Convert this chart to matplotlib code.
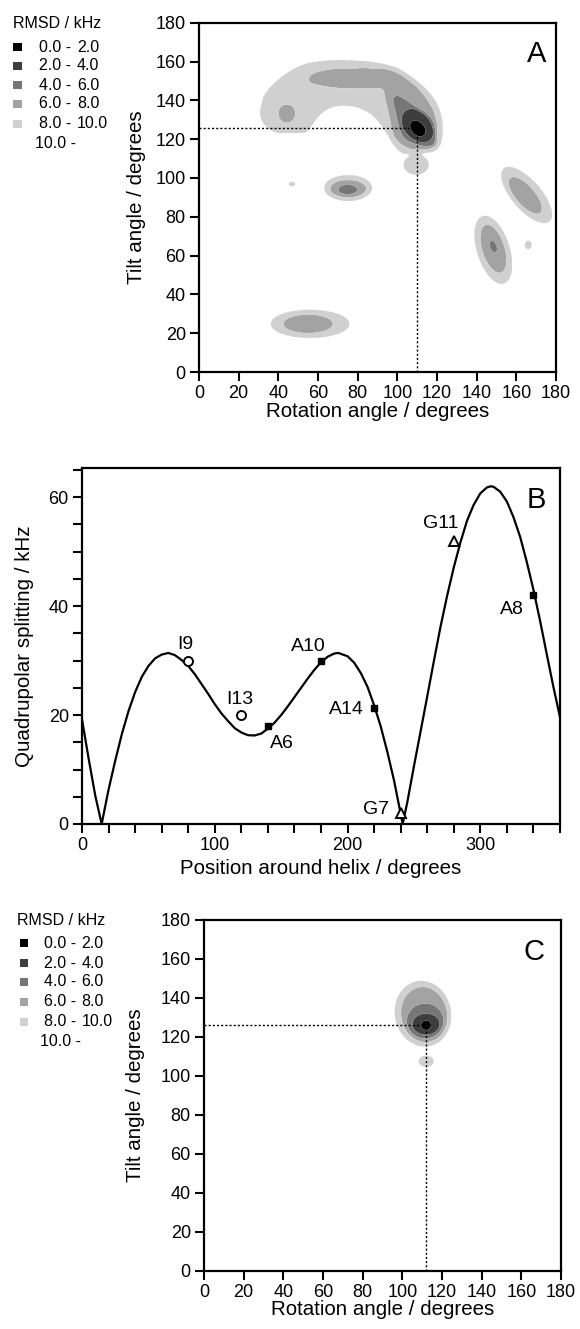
import numpy as np
import matplotlib
matplotlib.use("Agg")
import matplotlib.pyplot as plt
from matplotlib.patches import Rectangle
from matplotlib.path import Path

plt.rcParams['font.family'] = ['Liberation Sans', 'DejaVu Sans']

# ---------------- data ----------------
rmsd_levels = [0, 2, 4, 6, 8, 10]
rmsd_colors = ['#000000', '#3e3e3e', '#767676', '#a3a3a3', '#d0d0d0']
legend_lo = ['0.0 -', '2.0 -', '4.0 -', '6.0 -', '8.0 -']
legend_hi = ['2.0', '4.0', '6.0', '8.0', '10.0']

# Panel A: upper bound (kHz) of each RMSD region; outlines
A_arc_light_x = [30.8, 32.4, 35.5, 39, 44, 49, 54, 59, 66, 72.8, 80, 86, 93, 99.7, 105, 110, 113.5,
                 116.5, 119.5, 121.5, 122.8, 123, 122, 120, 117.5, 115, 110, 103, 100.5, 98.8,
                 96.5, 94.6, 92, 89.6, 86.5, 83, 79.5, 76, 72.5, 69.4, 66, 62.7, 60, 57.6, 55.5,
                 54, 50, 45, 40, 36, 32.4, 31]
A_arc_light_y = [135, 142, 146.5, 150, 154, 157, 159, 160, 160.7, 160.8, 160.5, 160, 158.8, 157,
                 153.8, 150, 147, 143.6, 139.5, 135, 129, 123, 117.5, 114.4, 113.2, 113, 112.3,
                 112.3, 114, 116, 119.5, 123, 127, 130, 133, 135, 136.5, 137, 137.3, 137, 136,
                 134, 131.5, 128, 125, 123.3, 123, 123, 123, 124.5, 128, 131]
A_arc_mid_x = [55, 56, 60, 65, 70, 75, 80, 86, 92.9, 98, 103, 109.7, 114, 118.2, 119.8, 119.8,
               118.5, 116.5, 112, 106, 101.5, 98.5, 97.2, 96.5, 95.5, 94.3, 92.9, 88, 80, 72, 65,
               60, 56.5]
A_arc_mid_y = [150.5, 153, 154.7, 155.8, 156.3, 156.4, 156.5, 156.5, 156.4, 155, 152.5, 147, 142,
               135, 129, 123, 118.5, 115.3, 114.5, 115, 117.5, 121, 125.3, 129, 134, 139, 146.1,
               146, 146, 146.2, 147, 147.9, 148.8]
A_arc_dark_x = [98, 100.5, 104, 108, 112, 116, 118.7, 119.7, 119, 116.5, 113, 109, 105, 102.5,
                101.2, 100, 98.8, 97.8]
A_arc_dark_y = [142, 142.5, 140.5, 137.5, 134.5, 130, 125, 120, 116.8, 115.8, 116.5, 117.5, 119,
                121.5, 125, 130, 135.5, 139.5]

# simple blobs: level, centre x, centre y, semi-axis a, semi-axis b, angle
A_ell_lev = [8, 4, 2, 10, 8, 6, 10, 10, 10, 8, 10, 8, 6, 10, 10, 8]
A_ell_x   = [44.3, 110.3, 110.3, 75.2, 75.2, 75, 109.5, 47, 165.2, 164.5, 148.4, 148.4, 148.4, 166, 56, 55]
A_ell_y   = [133.2, 127.0, 125.5, 94.8, 94.5, 94, 106.8, 96.8, 91.2, 91, 63, 63.5, 64.6, 65.5, 24.8, 24.8]
A_ell_a   = [4.3, 9.8, 4.8, 12.2, 9.2, 5, 6.5, 2.1, 18, 11.8, 18.3, 13, 3.5, 1.9, 20, 12.6]
A_ell_b   = [4.8, 7.0, 3.3, 6.7, 4.5, 2.5, 5.2, 1.3, 7.5, 4.8, 8.3, 5.6, 1.7, 2.5, 7.3, 4.75]
A_ell_ang = [0, -50, -50, 0, 0, 0, 0, 0, -50, -50, -73, -73, -73, 0, 0, 0]
A_best = (110, 125.5)

# Panel C: nested RMSD regions
C_ell_lev = [10, 10, 8, 6, 4, 2]
C_ell_x   = [110.4, 112, 111, 111.5, 112, 112]
C_ell_y   = [131.9, 107.5, 131.5, 128.2, 126.5, 126]
C_ell_a   = [14.2, 4, 11.6, 9.3, 7, 2.6]
C_ell_b   = [17, 3, 14.2, 9, 5.5, 2.6]
C_ell_ang = [10, 0, 10, 5, 0, 0]
C_best = (112, 126)

# Panel B: wave curve and measured splittings
wave_pos = [0, 5, 10, 14.8, 20, 25, 30, 35, 40, 45, 50, 55, 60, 65, 70, 75, 80, 85, 90, 95,
            100, 105, 110, 115, 120, 125, 130, 135, 140, 145, 150, 155, 160, 165, 170, 175,
            180, 185, 190, 193, 200, 205, 210, 215, 220, 225, 230, 235, 240, 241.5, 245,
            250, 255, 260, 265, 270, 275, 280, 285, 290, 295, 300, 305, 308, 310, 315,
            320, 325, 330, 335, 340, 345, 350, 355, 360]
wave_val = [19.2, 12.0, 5.2, 0.0, 6.3, 11.6, 16.5, 20.7, 24.2, 27.0, 29.0, 30.4, 31.1, 31.4,
            31.0, 30.1, 29.0, 27.5, 25.7, 23.9, 22.0, 20.3, 18.9, 17.6, 16.8, 16.3, 16.25,
            16.6, 17.5, 18.6, 20.0, 21.6, 23.3, 25.0, 26.7, 28.3, 29.7, 30.7, 31.3, 31.4,
            30.8, 29.6, 27.7, 25.2, 21.8, 17.9, 13.2, 8.0, 1.9, 0.0, 4.0, 10.6, 17.0, 23.4,
            29.9, 36.2, 41.9, 47.1, 51.7, 55.7, 58.6, 60.7, 61.8, 62.0, 61.9, 61.0, 59.2,
            56.3, 52.7, 48.1, 43.0, 37.3, 31.2, 25.2, 19.6]

res_names = ['I9', 'I13', 'A6', 'A10', 'A14', 'G7', 'G11', 'A8']
res_pos   = [80, 120, 140, 180, 220, 240, 280, 340]
res_split = [30.0, 20.0, 18.0, 30.0, 21.3, 2.0, 52.0, 42.0]
res_kind  = ['o', 'o', 's', 's', 's', '^', '^', 's']
res_lab_x = [78, 119, 150.5, 170.5, 199, 221.5, 270, 323.5]
res_lab_y = [33.0, 22.9, 14.7, 32.5, 21.1, 2.6, 55.2, 39.3]

# ---------------- helpers ----------------
W, H = 580, 1329
fig = plt.figure(figsize=(W / 100, H / 100), dpi=100)
GRID = np.linspace(0, 180, 721)
GX, GY = np.meshgrid(GRID, GRID)
PTS = np.column_stack([GX.ravel(), GY.ravel()])


def add_axes_px(left, right, top, bottom):
    return fig.add_axes([left / W, 1 - bottom / H, (right - left) / W, (bottom - top) / H])


def inside_ellipse(x0, y0, a, b, t):
    th = np.deg2rad(t)
    dx, dy = GX - x0, GY - y0
    u = dx * np.cos(th) + dy * np.sin(th)
    v = -dx * np.sin(th) + dy * np.cos(th)
    return (u / a) ** 2 + (v / b) ** 2 <= 1.0


def inside_polygon(xs, ys):
    return Path(np.column_stack([xs, ys])).contains_points(PTS).reshape(GX.shape)


def smooth(F, sigma_deg=0.9):
    step = GRID[1] - GRID[0]
    s = sigma_deg / step
    k = np.arange(-int(4 * s), int(4 * s) + 1)
    ker = np.exp(-0.5 * (k / s) ** 2)
    ker /= ker.sum()
    P = np.pad(F, len(k) // 2, mode='edge')
    P = np.apply_along_axis(lambda r: np.convolve(r, ker, mode='valid'), 1, P)
    P = np.apply_along_axis(lambda c: np.convolve(c, ker, mode='valid'), 0, P)
    return P


def rmsd_map(polys, ells):
    F = np.full(GX.shape, 11.0)
    for lev, xs, ys in polys:
        F = np.where(inside_polygon(xs, ys), np.minimum(F, lev - 1), F)
    for lev, x0, y0, a, b, t in zip(*ells):
        F = np.where(inside_ellipse(x0, y0, a, b, t), np.minimum(F, lev - 1), F)
    return smooth(F)


def style(ax):
    for s in ax.spines.values():
        s.set_linewidth(1.6)
    ax.tick_params(direction='out', length=6.5, width=1.5, labelsize=13, pad=3)


def map_panel(ax, F, best, letter, letter_xy, ylab_x):
    ax.contourf(GX, GY, F, levels=rmsd_levels, colors=rmsd_colors, antialiased=True)
    ax.plot([0, best[0]], [best[1], best[1]], color='black', lw=1.0, ls=(0, (1.5, 1.5)))
    ax.plot([best[0], best[0]], [0, best[1]], color='black', lw=1.0, ls=(0, (1.5, 1.5)))
    ax.set_xlim(0, 180)
    ax.set_ylim(0, 180)
    ax.set_xticks(np.arange(0, 181, 20))
    ax.set_yticks(np.arange(0, 181, 20))
    ax.set_xlabel('Rotation angle / degrees', fontsize=14.8)
    ax.set_ylabel('Tilt angle / degrees', fontsize=14.8)
    ax.xaxis.set_label_coords(0.5, -0.112)
    ax.xaxis.label.set_va('center')
    ax.yaxis.set_label_coords(ylab_x, 0.5)
    ax.yaxis.label.set_va('center')
    ax.text(letter_xy[0], letter_xy[1], letter, fontsize=21, ha='center', va='center')
    style(ax)


def legend_px(x_title, y_title, sq_cx, txt_x, hi_x, x_ten, rows_y):
    fs = 11.5
    fig.text(x_title / W, 1 - y_title / H, 'RMSD / kHz', fontsize=fs, ha='left', va='center')
    s = 8.5
    for i, (col, lo, hi) in enumerate(zip(rmsd_colors, legend_lo, legend_hi)):
        yy = rows_y[i]
        fig.patches.append(Rectangle(((sq_cx - s / 2) / W, 1 - (yy + s / 2) / H), s / W, s / H,
                                     transform=fig.transFigure, facecolor=col, edgecolor='none'))
        fig.text(txt_x / W, 1 - yy / H, lo, fontsize=fs, ha='left', va='center')
        fig.text(hi_x / W, 1 - yy / H, hi, fontsize=fs, ha='left', va='center')
    fig.text(x_ten / W, 1 - rows_y[5] / H, '10.0 -', fontsize=fs, ha='left', va='center')


# ---------------- panel A ----------------
axA = add_axes_px(199, 556, 22.7, 372)
FA = rmsd_map([(10, A_arc_light_x, A_arc_light_y), (8, A_arc_mid_x, A_arc_mid_y),
               (6, A_arc_dark_x, A_arc_dark_y)],
              (A_ell_lev, A_ell_x, A_ell_y, A_ell_a, A_ell_b, A_ell_ang))
map_panel(axA, FA, A_best, 'A', (170, 164), -0.176)
legend_px(13, 23, 17.5, 39, 77, 35, [47, 66, 85, 104, 124, 143])

# ---------------- panel B ----------------
axB = add_axes_px(82, 560, 468.3, 824)
axB.plot(wave_pos, wave_val, color='black', lw=1.6, solid_joinstyle='round')
for x, y, k in zip(res_pos, res_split, res_kind):
    if k == 's':
        axB.plot(x, y, marker='s', ms=4.5, color='black', ls='none')
    else:
        axB.plot(x, y, marker=k, ms=6.5, mfc='white', mec='black', mew=1.4, ls='none')
for name, lx, ly in zip(res_names, res_lab_x, res_lab_y):
    axB.text(lx, ly, name, fontsize=14, ha='center', va='center')
axB.set_xlim(0, 360)
axB.set_ylim(0, 65.3)
axB.set_xticks(np.arange(0, 361, 20))
axB.set_xticklabels([str(v) if v % 100 == 0 else '' for v in range(0, 361, 20)])
axB.set_yticks(np.arange(0, 66, 5))
axB.set_yticklabels([str(v) if v % 20 == 0 else '' for v in range(0, 66, 5)])
axB.set_xlabel('Position around helix / degrees', fontsize=14.8)
axB.set_ylabel('Quadrupolar splitting / kHz', fontsize=14.8)
axB.xaxis.set_label_coords(0.5, -0.1265)
axB.xaxis.label.set_va('center')
axB.yaxis.set_label_coords(-0.121, 0.5)
axB.yaxis.label.set_va('center')
axB.text(342, 59.5, 'B', fontsize=21, ha='center', va='center')
style(axB)

# ---------------- panel C ----------------
axC = add_axes_px(204, 561, 920, 1270.7)
FC = rmsd_map([], (C_ell_lev, C_ell_x, C_ell_y, C_ell_a, C_ell_b, C_ell_ang))
map_panel(axC, FC, C_best, 'C', (166.4, 163.7), -0.193)
legend_px(17, 920.5, 24, 43.7, 81.5, 40, [943, 963, 982, 1002, 1022, 1042])

fig.savefig('out.png', dpi=100)
